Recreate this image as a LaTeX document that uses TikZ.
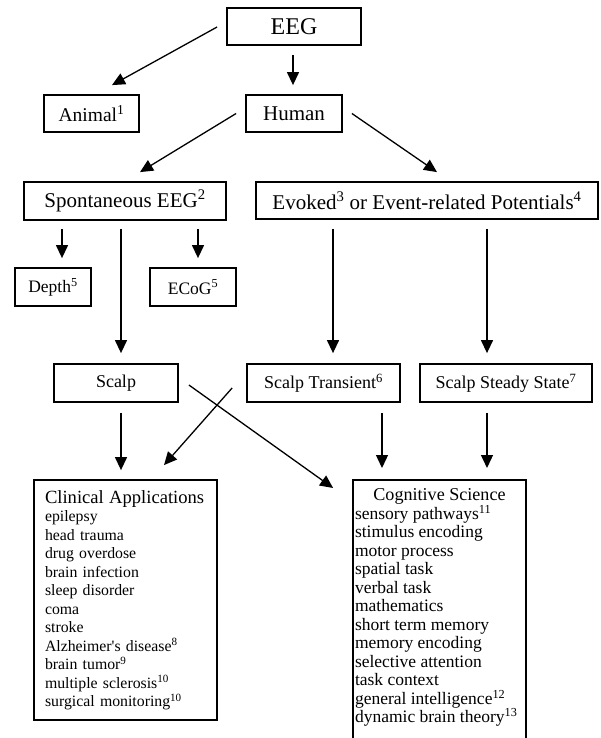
\documentclass[tikz,border=0pt]{standalone}
\usepackage{fontspec}
\setmainfont{Liberation Serif}
\usetikzlibrary{arrows.meta,calc}

\begin{document}
\begin{tikzpicture}[
    x=1pt, y=-1pt,
    box/.style={draw, line width=1.8pt, inner sep=0pt, align=center,
                font=\fontsize{18}{21}\selectfont},
    listbox/.style={draw, line width=1.8pt, inner xsep=11pt, inner ysep=0pt, align=left,
                font=\fontsize{15.8}{18.5}\selectfont},
    arr/.style={-{Triangle[length=13pt,width=12pt]}, line width=1.3pt}
  ]
  \useasboundingbox (0,0) rectangle (601,738);
  \clip (0,0) rectangle (601,738);

  \node[box, minimum width=134pt, minimum height=37pt, font=\fontsize{24}{26}\selectfont] (eeg) at (294,26.5) {EEG};
  \node[box, minimum width=95pt, minimum height=37pt, font=\fontsize{19.5}{22}\selectfont] (animal) at (91.5,113.5) {Animal\textsuperscript{1}};
  \node[box, minimum width=96pt, minimum height=37pt, font=\fontsize{21}{24}\selectfont] (human) at (294,113.5) {Human};
  \node[box, minimum width=202pt, minimum height=38pt, font=\fontsize{21}{24}\selectfont] (spont) at (125,201) {Spontaneous EEG\textsuperscript{2}};
  \node[box, minimum width=342pt, minimum height=37pt, font=\fontsize{21}{24}\selectfont] (evoked) at (427,200.5)
    {Evoked\textsuperscript{3} or Event-related Potentials\textsuperscript{4}};
  \node[box, minimum width=76pt, minimum height=38pt, font=\fontsize{17.5}{20}\selectfont] (depth) at (53,287) {Depth\textsuperscript{5}};
  \node[box, minimum width=86pt, minimum height=38pt, font=\fontsize{17.5}{20}\selectfont] (ecog) at (193,287) {ECoG\textsuperscript{5}};
  \node[box, minimum width=124pt, minimum height=38pt] (scalp) at (116,383) {Scalp};
  \node[box, minimum width=153pt, minimum height=38pt] (trans) at (323.5,383) {Scalp Transient\textsuperscript{6}};
  \node[box, minimum width=172pt, minimum height=38pt] (steady) at (506,383) {Scalp Steady State\textsuperscript{7}};

  \node[listbox, text width=161pt, minimum height=240pt] (clin) at (125.5,600)
    {{\fontsize{18.6}{18.5}\selectfont Clinical Applications}\\
     epilepsy\\ head trauma\\ drug overdose\\ brain infection\\ sleep disorder\\
     coma\\ stroke\\ Alzheimer\textquotesingle s disease\textsuperscript{8}\\ brain tumor\textsuperscript{9}\\
     multiple sclerosis\textsuperscript{10}\\ surgical monitoring\textsuperscript{10}};
  \node[listbox, anchor=north, inner xsep=2pt, inner ysep=9pt, font=\fontsize{17.5}{18.5}\selectfont] (cog) at (439.5,479)
    {\parbox[c][255pt][t]{169pt}{%
     {\centering\fontsize{18.1}{18.5}\selectfont Cognitive Science\par}
     \raggedright
     sensory pathways\textsuperscript{11}\\ stimulus encoding\\ motor process\\ spatial task\\
     verbal task\\ mathematics\\ short term memory\\ memory encoding\\ selective attention\\
     task context\\ general intelligence\textsuperscript{12}\\ dynamic brain theory\textsuperscript{13}}};

  \draw[arr] ($(eeg.west)+(-9,0.5)$) -- ($(animal.north)+(20.5,-9)$);
  \draw[arr] ($(eeg.south)+(-1,9)$) -- ($(human.north)+(-1,-9)$);
  \draw[arr] ($(human.west)+(-9,0)$) -- ($(spont.north)+(15,-9)$);
  \draw[arr] ($(human.east)+(9,0)$) -- ($(evoked.north)+(10,-9)$);
  \draw[arr] ($(spont.south)+(-63,8)$) -- ($(depth.north)+(9,-9)$);
  \draw[arr] ($(spont.south)+(-4,8)$) -- ($(scalp.north)+(5,-10)$);
  \draw[arr] ($(spont.south)+(73,8)$) -- ($(ecog.north)+(5,-9)$);
  \draw[arr] ($(evoked.south)+(-94,9)$) -- ($(trans.north)+(9.5,-10)$);
  \draw[arr] ($(evoked.south)+(60,9)$) -- ($(steady.north)+(-19,-10)$);
  \draw[arr] ($(scalp.south)+(5,10)$) -- ($(clin.north)+(-4.5,-9)$);
  \draw[arr] ($(trans.west)+(-14,5)$) -- ($(clin.north)+(38.5,-14)$);
  \draw[arr] ($(scalp.east)+(10,2)$) -- ($(cog.north west)+(-19,9)$);
  \draw[arr] ($(trans.south)+(58.5,10)$) -- ($(cog.north)+(-57.5,-11)$);
  \draw[arr] ($(steady.south)+(-19,10)$) -- ($(cog.north)+(47.5,-11)$);
\end{tikzpicture}
\end{document}
